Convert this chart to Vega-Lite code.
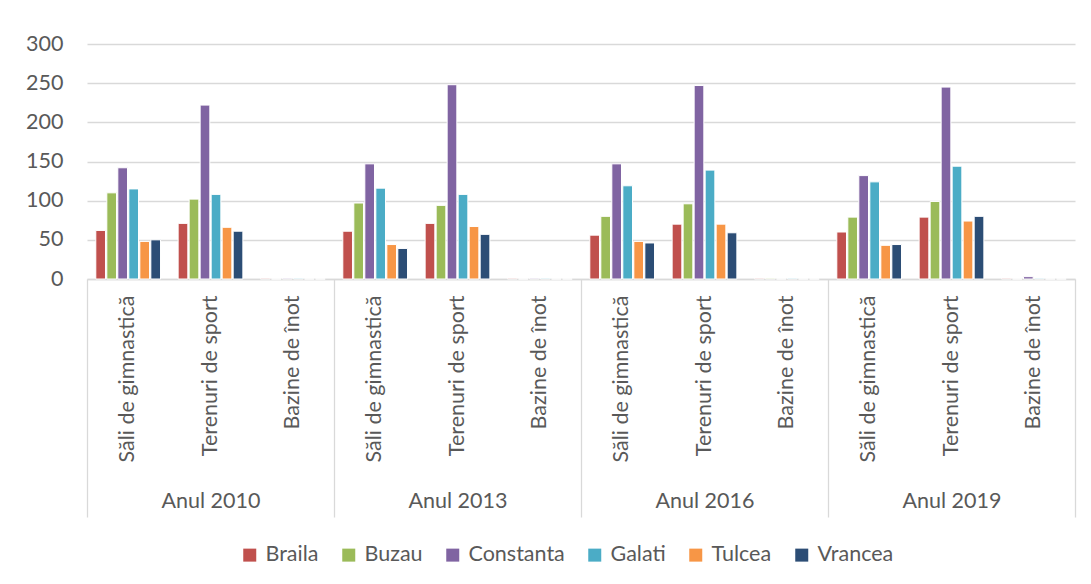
{
  "$schema": "https://vega.github.io/schema/vega-lite/v6.json",
  "width": 988,
  "height": 235,
  "autosize": {"type": "none"},
  "padding": {"left": 87, "top": 44, "right": 16, "bottom": 305},
  "background": "white",
  "config": {
    "font": "Lato",
    "view": {"stroke": null},
    "axis": {"labelFont": "Lato", "labelColor": "#595959", "labelFontSize": 21.5}
  },
  "data": {
    "values": [
      {"year": "Anul 2010", "category": "Săli de gimnastică", "county": "Braila", "value": 62},
      {"year": "Anul 2010", "category": "Săli de gimnastică", "county": "Buzau", "value": 110},
      {"year": "Anul 2010", "category": "Săli de gimnastică", "county": "Constanta", "value": 142},
      {"year": "Anul 2010", "category": "Săli de gimnastică", "county": "Galati", "value": 115},
      {"year": "Anul 2010", "category": "Săli de gimnastică", "county": "Tulcea", "value": 48},
      {"year": "Anul 2010", "category": "Săli de gimnastică", "county": "Vrancea", "value": 50},
      {"year": "Anul 2010", "category": "Terenuri de sport", "county": "Braila", "value": 71},
      {"year": "Anul 2010", "category": "Terenuri de sport", "county": "Buzau", "value": 102},
      {"year": "Anul 2010", "category": "Terenuri de sport", "county": "Constanta", "value": 222},
      {"year": "Anul 2010", "category": "Terenuri de sport", "county": "Galati", "value": 108},
      {"year": "Anul 2010", "category": "Terenuri de sport", "county": "Tulcea", "value": 66},
      {"year": "Anul 2010", "category": "Terenuri de sport", "county": "Vrancea", "value": 61},
      {"year": "Anul 2010", "category": "Bazine de înot", "county": "Braila", "value": 1},
      {"year": "Anul 2010", "category": "Bazine de înot", "county": "Buzau", "value": 0},
      {"year": "Anul 2010", "category": "Bazine de înot", "county": "Constanta", "value": 1},
      {"year": "Anul 2010", "category": "Bazine de înot", "county": "Galati", "value": 1},
      {"year": "Anul 2010", "category": "Bazine de înot", "county": "Tulcea", "value": 0},
      {"year": "Anul 2010", "category": "Bazine de înot", "county": "Vrancea", "value": 0},
      {"year": "Anul 2013", "category": "Săli de gimnastică", "county": "Braila", "value": 61},
      {"year": "Anul 2013", "category": "Săli de gimnastică", "county": "Buzau", "value": 97},
      {"year": "Anul 2013", "category": "Săli de gimnastică", "county": "Constanta", "value": 147},
      {"year": "Anul 2013", "category": "Săli de gimnastică", "county": "Galati", "value": 116},
      {"year": "Anul 2013", "category": "Săli de gimnastică", "county": "Tulcea", "value": 44},
      {"year": "Anul 2013", "category": "Săli de gimnastică", "county": "Vrancea", "value": 39},
      {"year": "Anul 2013", "category": "Terenuri de sport", "county": "Braila", "value": 71},
      {"year": "Anul 2013", "category": "Terenuri de sport", "county": "Buzau", "value": 94},
      {"year": "Anul 2013", "category": "Terenuri de sport", "county": "Constanta", "value": 248},
      {"year": "Anul 2013", "category": "Terenuri de sport", "county": "Galati", "value": 108},
      {"year": "Anul 2013", "category": "Terenuri de sport", "county": "Tulcea", "value": 67},
      {"year": "Anul 2013", "category": "Terenuri de sport", "county": "Vrancea", "value": 57},
      {"year": "Anul 2013", "category": "Bazine de înot", "county": "Braila", "value": 1},
      {"year": "Anul 2013", "category": "Bazine de înot", "county": "Buzau", "value": 0},
      {"year": "Anul 2013", "category": "Bazine de înot", "county": "Constanta", "value": 1},
      {"year": "Anul 2013", "category": "Bazine de înot", "county": "Galati", "value": 1},
      {"year": "Anul 2013", "category": "Bazine de înot", "county": "Tulcea", "value": 0},
      {"year": "Anul 2013", "category": "Bazine de înot", "county": "Vrancea", "value": 0},
      {"year": "Anul 2016", "category": "Săli de gimnastică", "county": "Braila", "value": 56},
      {"year": "Anul 2016", "category": "Săli de gimnastică", "county": "Buzau", "value": 80},
      {"year": "Anul 2016", "category": "Săli de gimnastică", "county": "Constanta", "value": 147},
      {"year": "Anul 2016", "category": "Săli de gimnastică", "county": "Galati", "value": 119},
      {"year": "Anul 2016", "category": "Săli de gimnastică", "county": "Tulcea", "value": 48},
      {"year": "Anul 2016", "category": "Săli de gimnastică", "county": "Vrancea", "value": 46},
      {"year": "Anul 2016", "category": "Terenuri de sport", "county": "Braila", "value": 70},
      {"year": "Anul 2016", "category": "Terenuri de sport", "county": "Buzau", "value": 96},
      {"year": "Anul 2016", "category": "Terenuri de sport", "county": "Constanta", "value": 247},
      {"year": "Anul 2016", "category": "Terenuri de sport", "county": "Galati", "value": 139},
      {"year": "Anul 2016", "category": "Terenuri de sport", "county": "Tulcea", "value": 70},
      {"year": "Anul 2016", "category": "Terenuri de sport", "county": "Vrancea", "value": 59},
      {"year": "Anul 2016", "category": "Bazine de înot", "county": "Braila", "value": 1},
      {"year": "Anul 2016", "category": "Bazine de înot", "county": "Buzau", "value": 1},
      {"year": "Anul 2016", "category": "Bazine de înot", "county": "Constanta", "value": 0},
      {"year": "Anul 2016", "category": "Bazine de înot", "county": "Galati", "value": 1},
      {"year": "Anul 2016", "category": "Bazine de înot", "county": "Tulcea", "value": 0},
      {"year": "Anul 2016", "category": "Bazine de înot", "county": "Vrancea", "value": 0},
      {"year": "Anul 2019", "category": "Săli de gimnastică", "county": "Braila", "value": 60},
      {"year": "Anul 2019", "category": "Săli de gimnastică", "county": "Buzau", "value": 79},
      {"year": "Anul 2019", "category": "Săli de gimnastică", "county": "Constanta", "value": 132},
      {"year": "Anul 2019", "category": "Săli de gimnastică", "county": "Galati", "value": 124},
      {"year": "Anul 2019", "category": "Săli de gimnastică", "county": "Tulcea", "value": 43},
      {"year": "Anul 2019", "category": "Săli de gimnastică", "county": "Vrancea", "value": 44},
      {"year": "Anul 2019", "category": "Terenuri de sport", "county": "Braila", "value": 79},
      {"year": "Anul 2019", "category": "Terenuri de sport", "county": "Buzau", "value": 99},
      {"year": "Anul 2019", "category": "Terenuri de sport", "county": "Constanta", "value": 245},
      {"year": "Anul 2019", "category": "Terenuri de sport", "county": "Galati", "value": 144},
      {"year": "Anul 2019", "category": "Terenuri de sport", "county": "Tulcea", "value": 74},
      {"year": "Anul 2019", "category": "Terenuri de sport", "county": "Vrancea", "value": 80},
      {"year": "Anul 2019", "category": "Bazine de înot", "county": "Braila", "value": 1},
      {"year": "Anul 2019", "category": "Bazine de înot", "county": "Buzau", "value": 0},
      {"year": "Anul 2019", "category": "Bazine de înot", "county": "Constanta", "value": 3},
      {"year": "Anul 2019", "category": "Bazine de înot", "county": "Galati", "value": 1},
      {"year": "Anul 2019", "category": "Bazine de înot", "county": "Tulcea", "value": 0},
      {"year": "Anul 2019", "category": "Bazine de înot", "county": "Vrancea", "value": 0}
    ]
  },
  "transform": [{"calculate": "datum.year + '|' + datum.category", "as": "key"}],
  "layer": [
    {
      "mark": {"type": "bar", "stroke": "white", "strokeWidth": 1},
      "encoding": {
        "x": {
          "field": "key", "type": "nominal", "sort": null,
          "scale": {"type": "band", "paddingInner": 0, "paddingOuter": 0},
          "axis": {
            "orient": "bottom", "title": null, "labelExpr": "split(datum.value, '|')[1]",
            "labelAngle": -90, "labelPadding": 16, "ticks": false, "domain": false
          }
        },
        "xOffset": {
          "field": "county", "type": "nominal",
          "sort": ["Braila", "Buzau", "Constanta", "Galati", "Tulcea", "Vrancea"],
          "scale": {"paddingInner": 0.12, "paddingOuter": 0.8}
        },
        "y": {
          "field": "value", "type": "quantitative",
          "scale": {"domain": [0, 300], "nice": false},
          "axis": {
            "title": null, "values": [0, 50, 100, 150, 200, 250, 300], "ticks": false, "domain": false,
            "labelPadding": 24, "gridColor": "#d9d9d9", "gridWidth": 1.3
          }
        },
        "color": {
          "field": "county", "type": "nominal",
          "scale": {
            "domain": ["Braila", "Buzau", "Constanta", "Galati", "Tulcea", "Vrancea"],
            "range": ["#c0504d", "#9bbb59", "#8064a2", "#4bacc6", "#f79646", "#2c4d75"]
          },
          "legend": {
            "title": null, "orient": "none", "legendX": 152, "legendY": 500,
            "direction": "horizontal", "symbolType": "square",
            "symbolSize": 169, "symbolStrokeWidth": 0, "labelFontSize": 21.5, "labelColor": "#595959",
            "labelFont": "Lato", "columnPadding": 19, "symbolOffset": 0, "labelOffset": 5
          }
        }
      }
    },
    {
      "mark": {"type": "bar", "opacity": 0},
      "encoding": {
        "x": {
          "field": "year", "type": "nominal", "sort": null,
          "scale": {"type": "band", "paddingInner": 0, "paddingOuter": 0},
          "axis": {
            "orient": "bottom", "title": null, "labelAngle": 0, "tickBand": "extent",
            "ticks": true, "tickSize": 238, "tickColor": "#d9d9d9", "tickWidth": 1.3,
            "domain": true, "domainColor": "#d9d9d9", "domainWidth": 1.3,
            "labelPadding": -27, "labelBaseline": "top"
          }
        }
      }
    }
  ],
  "resolve": {"scale": {"x": "independent"}}
}
